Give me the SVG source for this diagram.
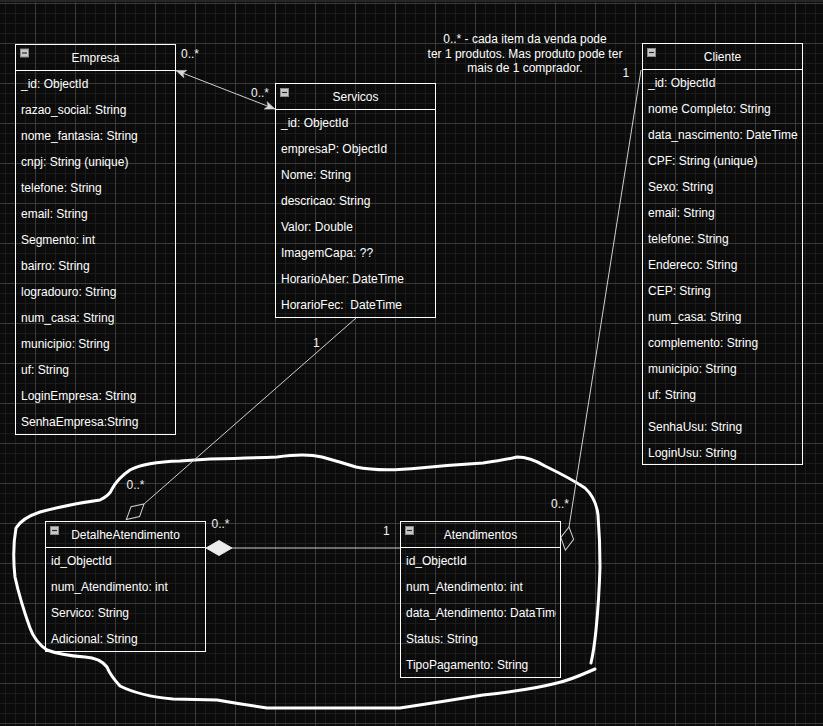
<svg xmlns="http://www.w3.org/2000/svg" xmlns:xlink="http://www.w3.org/1999/xlink" width="823" height="726" viewBox="0 0 823 726">
<style>
  text { font-family: "Liberation Sans", Arial, Helvetica, sans-serif; font-size: 12px; fill: #ffffff; }
  .title { text-anchor: middle; }
  .box { fill: none; stroke: #ffffff; stroke-width: 1; }
  .sep { stroke: #ffffff; stroke-width: 1; }
  .conn { fill: none; stroke: #cfcfcf; stroke-width: 1; }
  .lbl { fill: #f2f2f2; }
  .note { text-anchor: middle; }
</style>
<defs>
  <pattern id="gridMinor" patternUnits="userSpaceOnUse" x="5" y="3" width="10" height="10">
    <path d="M0 0.5 H10 M0.5 0 V10" stroke="#1b1b1b" stroke-width="1" fill="none"/>
  </pattern>
  <pattern id="gridMajor" patternUnits="userSpaceOnUse" x="35" y="3" width="40" height="40">
    <path d="M0 0.5 H40 M0.5 0 V40" stroke="#3a3a3a" stroke-width="1" fill="none"/>
  </pattern>
  <g id="minus">
    <rect x="0.5" y="0.5" width="8" height="8" fill="#c8c8c8" stroke="#8a8a8a" stroke-width="1"/>
    <line x1="2" y1="4.5" x2="7" y2="4.5" stroke="#2a2a2a" stroke-width="1.2"/>
  </g>
  <marker id="arrow" markerUnits="userSpaceOnUse" viewBox="-11 -5 12 10" refX="0" refY="0" markerWidth="12" markerHeight="10" orient="auto-start-reverse" overflow="visible">
    <path d="M0,0 L-10,-4 L-7.5,0 L-10,4 Z" fill="#d8d8d8" stroke="#d8d8d8" stroke-width="0.5"/>
  </marker>
  <marker id="hollowDiamond" markerUnits="userSpaceOnUse" viewBox="-1 -8 26 16" refX="0" refY="0" markerWidth="26" markerHeight="16" orient="auto" overflow="visible">
    <path d="M0,0 L11.5,-6.5 L23.5,0 L11.5,6.5 Z" fill="none" stroke="#cfcfcf" stroke-width="1"/>
  </marker>
  <marker id="filledDiamond" markerUnits="userSpaceOnUse" viewBox="-1 -9 28 18" refX="0" refY="0" markerWidth="28" markerHeight="18" orient="auto" overflow="visible">
    <path d="M0,0 L13,-7.5 L26,0 L13,7.5 Z" fill="#ececec" stroke="#ececec" stroke-width="1"/>
  </marker>
  <clipPath id="clipAtend">
    <rect x="400" y="521" width="156" height="157"/>
  </clipPath>
</defs>

<rect x="0" y="0" width="823" height="726" fill="#0b0b0b"/>
<rect x="0" y="0" width="823" height="726" fill="url(#gridMinor)"/>
<rect x="0" y="0" width="823" height="726" fill="url(#gridMajor)"/>
<rect x="0" y="0" width="823" height="2" fill="#262626"/>

<!-- hand-drawn loop -->
<path id="freehand-loop" fill="none" stroke="#ffffff" stroke-width="3" stroke-linejoin="round" stroke-linecap="round"
  d="M595,669 L588,672 Q570,680 557,683 Q530,690 483,695 Q440,702 400,708 L267,708 Q240,704 217,700 L173,699 Q140,696 120,686 Q110,675 107,667 Q100,658 85,657 Q60,655 47,650 Q35,642 30,628 Q20,600 15,577 Q12,550 16,528 Q22,518 40,512 Q70,504 100,500 Q110,495 112,489 Q118,478 130,470 Q145,462 180,461 L210,459 Q250,458 277,457 Q305,453 322,457 Q340,462 356,467 Q380,472 420,468 Q450,465 483,463 Q505,460 517,457 Q530,457 545,466 Q570,478 585,488 Q596,498 598,515 Q600,540 600,567 Q599,600 596,630 Q594,650 591,663"/>

<g id="connectors">
  <line class="conn" x1="176" y1="70.5" x2="275" y2="109" marker-start="url(#arrow)" marker-end="url(#arrow)" stroke="#d8d8d8"/>
  <line class="conn" x1="356" y1="318" x2="144" y2="504" marker-end="url(#hollowDiamond)"/>
  <line class="conn" x1="400" y1="548" x2="232" y2="548" stroke-width="1.6" marker-end="url(#filledDiamond)"/>
  <line class="conn" x1="641" y1="70" x2="569" y2="527" marker-end="url(#hollowDiamond)"/>
  <text class="lbl" x="181" y="57.5">0..*</text>
  <text class="lbl" x="251" y="96.5">0..*</text>
  <text class="lbl" x="313" y="346.5">1</text>
  <text class="lbl" x="126.5" y="488.5">0..*</text>
  <text class="lbl" x="211.5" y="527.5">0..*</text>
  <text class="lbl" x="383" y="535">1</text>
  <text class="lbl" x="551" y="508">0..*</text>
  <text class="lbl" x="622.5" y="77">1</text>
</g>

<g id="note">
  <text class="note" x="525" y="43">0..* - cada item da venda pode</text>
  <text class="note" x="525" y="57.5">ter 1 produtos. Mas produto pode ter</text>
  <text class="note" x="525" y="72">mais de 1 comprador.</text>
</g>

<g id="Empresa">
  <rect class="box" x="15.5" y="44.5" width="160" height="390"/>
  <line class="sep" x1="15.5" y1="70.5" x2="175.5" y2="70.5"/>
  <use href="#minus" x="20" y="48.5"/>
  <text class="title" x="95.5" y="61.5">Empresa</text>
  <text x="21" y="88.3">_id: ObjectId</text>
  <text x="21" y="114.3">razao_social: String</text>
  <text x="21" y="140.3">nome_fantasia: String</text>
  <text x="21" y="166.3">cnpj: String (unique)</text>
  <text x="21" y="192.3">telefone: String</text>
  <text x="21" y="218.3">email: String</text>
  <text x="21" y="244.3">Segmento: int</text>
  <text x="21" y="270.3">bairro: String</text>
  <text x="21" y="296.3">logradouro: String</text>
  <text x="21" y="322.3">num_casa: String</text>
  <text x="21" y="348.3">municipio: String</text>
  <text x="21" y="374.3">uf: String</text>
  <text x="21" y="400.3">LoginEmpresa: String</text>
  <text x="21" y="426.3">SenhaEmpresa:String</text>
</g>

<g id="Servicos">
  <rect class="box" x="275.5" y="83.5" width="160" height="234"/>
  <line class="sep" x1="275.5" y1="109.5" x2="435.5" y2="109.5"/>
  <use href="#minus" x="280" y="88"/>
  <text class="title" x="355.5" y="100.5">Servicos</text>
  <text x="281" y="127.3">_id: ObjectId</text>
  <text x="281" y="153.3">empresaP: ObjectId</text>
  <text x="281" y="179.3">Nome: String</text>
  <text x="281" y="205.3">descricao: String</text>
  <text x="281" y="231.3">Valor: Double</text>
  <text x="281" y="257.3">ImagemCapa: ??</text>
  <text x="281" y="283.3">HorarioAber: DateTime</text>
  <text x="281" y="309.3" xml:space="preserve">HorarioFec:  DateTime</text>
</g>

<g id="Cliente">
  <rect class="box" x="642.5" y="43.5" width="160" height="421"/>
  <line class="sep" x1="642.5" y1="69.5" x2="802.5" y2="69.5"/>
  <use href="#minus" x="647" y="48"/>
  <text class="title" x="722.5" y="61">Cliente</text>
  <text x="648" y="87.3">_id: ObjectId</text>
  <text x="648" y="113.3">nome Completo: String</text>
  <text x="648" y="139.3">data_nascimento: DateTime</text>
  <text x="648" y="165.3">CPF: String (unique)</text>
  <text x="648" y="191.3">Sexo: String</text>
  <text x="648" y="217.3">email: String</text>
  <text x="648" y="243.3">telefone: String</text>
  <text x="648" y="269.3">Endereco: String</text>
  <text x="648" y="295.3">CEP: String</text>
  <text x="648" y="321.3">num_casa: String</text>
  <text x="648" y="347.3">complemento: String</text>
  <text x="648" y="373.3">municipio: String</text>
  <text x="648" y="399.3">uf: String</text>
  <text x="648" y="431.3">SenhaUsu: String</text>
  <text x="648" y="457.3">LoginUsu: String</text>
</g>

<g id="DetalheAtendimento">
  <rect class="box" x="45.5" y="521.5" width="160" height="130"/>
  <line class="sep" x1="45.5" y1="547.5" x2="205.5" y2="547.5"/>
  <use href="#minus" x="50" y="526"/>
  <text class="title" x="125.5" y="539">DetalheAtendimento</text>
  <text x="51" y="565.3">id_ObjectId</text>
  <text x="51" y="591.3">num_Atendimento: int</text>
  <text x="51" y="617.3">Servico: String</text>
  <text x="51" y="643.3">Adicional: String</text>
</g>

<g id="Atendimentos">
  <rect class="box" x="400.5" y="521.5" width="160" height="156"/>
  <line class="sep" x1="400.5" y1="547.5" x2="560.5" y2="547.5"/>
  <use href="#minus" x="405" y="526"/>
  <text class="title" x="480.5" y="539">Atendimentos</text>
  <g clip-path="url(#clipAtend)">
    <text x="406" y="565.3">id_ObjectId</text>
    <text x="406" y="591.3">num_Atendimento: int</text>
    <text x="406" y="617.3">data_Atendimento: DataTime</text>
    <text x="406" y="643.3">Status: String</text>
    <text x="406" y="669.3">TipoPagamento: String</text>
  </g>
</g>
</svg>
